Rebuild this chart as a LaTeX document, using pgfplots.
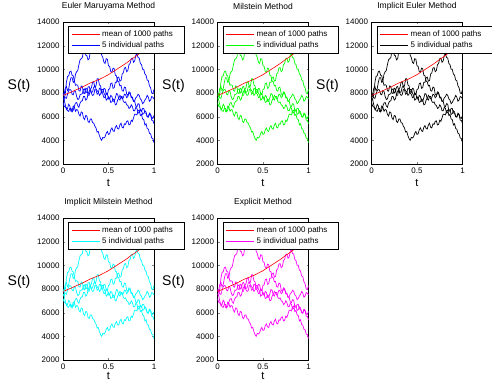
\documentclass[border=0pt]{standalone}
\usepackage{pgfplots}
\pgfplotsset{compat=1.18}
\usepackage{pgfplotstable}
\usepackage{fontspec}
\setmainfont{Liberation Sans}

\definecolor{mblue}{rgb}{0,0,1}
\definecolor{mgreen}{rgb}{0,1,0}
\definecolor{mcyan}{rgb}{0,1,1}
\definecolor{mmag}{rgb}{1,0,1}
\definecolor{mred}{rgb}{1,0,0}

\pgfplotstableread{
t      L     T      M      C     D     mean
0      7600  7800   7400   8000  7200  7800
0.0125 7450  7900   7450   7700  6900  7835
0.025  7000  8400   7900   7600  6800  7870
0.0375 6600  8550   8900   7550  6750  7910
0.05   6700  8200   9400   7900  6500  7950
0.0625 7050  8350   9450   8200  6450  7990
0.075  6900  8900   9800   8300  6700  8030
0.0875 6450  9300   9850   8250  6700  8070
0.1    6500  9300   9500   7900  6400  8110
0.1125 6900  8900   9450   7850  6550  8155
0.125  6800  9000   9000   8200  6900  8200
0.1375 6450  9600   8650   8150  7150  8245
0.15   6600  9800   8700   7700  7200  8290
0.1625 6550  9900   8650   7450  6900  8330
0.175  6200  10400  8200   7500  6800  8370
0.1875 6050  10800  8150   7850  7150  8410
0.2    6400  10900  8600   7900  7300  8450
0.2125 6350  11000  8550   7950  7350  8500
0.225  5900  11600  8000   8300  7700  8550
0.2375 5750  11700  7950   8350  7700  8600
0.25   6100  11200  8400   8000  7400  8650
0.2625 6050  11150  8350   8100  7500  8700
0.275  5600  10800  7800   8500  7900  8750
0.2875 5500  10900  7800   8550  8150  8800
0.3    5800  11500  8300   8200  8300  8850
0.3125 5800  11600  8450   7950  8050  8885
0.325  5500  12000  8900   7800  8100  8920
0.3375 5450  12050  8950   7850  8500  8960
0.35   5200  11600  8500   8300  8600  9000
0.3625 5050  11700  8600   8250  8350  9040
0.375  4700  12200  9200   7900  8200  9080
0.3875 4750  12150  9200   8000  8100  9115
0.4    4400  11800  8700   8400  7800  9150
0.4125 4150  11700  8600   8350  7900  9200
0.425  4000  11200  8100   8000  8300  9250
0.4375 4250  11000  8050   7900  8300  9300
0.45   4200  10600  8400   7600  8000  9350
0.4625 4300  10500  8350   7650  7800  9400
0.475  4600  10900  7900   8000  7400  9450
0.4875 4750  10850  7850   7950  7500  9500
0.5    4500  10300  8300   7500  7700  9550
0.5125 4550  10250  8350   7500  7550  9615
0.525  4900  9800   8800   7800  7200  9680
0.5375 5050  9750   8850   7700  7250  9740
0.55   4800  10100  8400   7300  7500  9800
0.5625 4750  10050  8450   7300  7400  9860
0.575  5100  9500   8900   7600  7000  9920
0.5875 5250  9450   8900   7950  7050  9985
0.6    5000  9000   9300   7900  7400  10050
0.6125 4950  8950   9350   7500  7550  10110
0.625  5300  8600   9000   7400  7800  10170
0.6375 5450  8650   9050   7700  7700  10235
0.65   5100  8200   9600   7700  7500  10300
0.6625 5050  8150   9700   7300  7600  10360
0.675  5400  8500   10100  7200  7900  10420
0.6875 5350  8450   10150  7250  7850  10485
0.7    5600  7900   9800   7000  7600  10550
0.7125 5650  7800   9900   6950  7700  10625
0.725  5300  8100   10400  6700  8000  10700
0.7375 5350  8050   10500  6750  7950  10775
0.75   5700  7600   10900  7000  7700  10850
0.7625 5600  7650   10950  6850  7550  10910
0.775  5900  7300   10600  6500  7300  10970
0.7875 6200  7300   10700  6500  7350  11035
0.8    6200  6900   11200  6800  7600  11100
0.8125 6150  6850   11300  6700  7700  11175
0.825  6500  7100   11000  6300  7900  11250
0.8375 6550  7050   10950  6350  7800  11325
0.85   6100  6500   10500  6600  7500  11400
0.8625 6200  6450   10400  6550  7400  11475
0.875  5800  6700   10000  6200  7100  11550
0.8875 5750  6700   10000  6250  7200  11625
0.9    5300  6300   9600   6500  7400  11700
0.9125 5400  6300   9500   6400  7550  11775
0.925  5000  6000   9100   6000  7800  11850
0.9375 4950  5950   9050   6000  7650  11925
0.95   4600  6200   8600   6300  7300  12000
0.9625 4550  6150   8450   6200  7400  12075
0.975  4200  5700   8000   5900  7700  12150
0.9875 4150  5700   7950   5850  7650  12225
1      3800  5400   8300   6100  7500  12300
}\paths

\newcommand\legbox[1]{\makebox[77pt][l]{#1}}

\pgfplotsset{
  mystyle/.style={
    scale only axis, width=91pt, height=142pt,
    xmin=0, xmax=1, ymin=2000, ymax=14000,
    xtick={0,0.5,1}, ytick={2000,4000,...,14000},
    scaled y ticks=false,
    yticklabel style={/pgf/number format/set thousands separator={}},
    /pgf/number format/assume math mode=true,
    tick label style={font=\fontsize{8}{9}\selectfont},
    major tick length=2pt,
    axis line style={line width=0.5pt},
    title style={font=\fontsize{8.5}{10}\selectfont, at={(axis description cs:0.5,1.07)}, anchor=center},
    xlabel={t}, ylabel={S(t)},
    xlabel style={font=\fontsize{11}{12}\selectfont, at={(axis description cs:0.5,-0.135)}, anchor=center},
    ylabel style={font=\fontsize{14}{16}\selectfont, at={(axis description cs:-0.484,0.55)}, rotate=-90, anchor=center},
    legend style={at={(0.055,0.972)}, anchor=north west, font=\fontsize{8}{9}\selectfont, line width=0.8pt, fill=white},
    legend image code/.code={\draw[##1] (0pt,0pt) -- (28pt,0pt);},
    legend cell align=left,
  }
}

\newcommand\panel[4]{%
  \begin{axis}[mystyle, at={#1}, anchor=south west, title={#2}, #4]
    \addlegendimage{mred, line width=0.8pt}
    \addlegendentry{\legbox{mean of 1000 paths}}
    \addlegendimage{#3, line width=0.8pt}
    \addlegendentry{\legbox{5 individual paths}}
    \addplot[color=#3, line width=0.7pt, forget plot] table[x=t,y=L]{\paths};
    \addplot[color=#3, line width=0.7pt, forget plot] table[x=t,y=T]{\paths};
    \addplot[color=#3, line width=0.7pt, forget plot] table[x=t,y=M]{\paths};
    \addplot[color=#3, line width=0.7pt, forget plot] table[x=t,y=C]{\paths};
    \addplot[color=#3, line width=0.7pt, forget plot] table[x=t,y=D]{\paths};
    \addplot[color=mred, line width=0.6pt, forget plot] table[x=t,y=mean]{\paths};
  \end{axis}%
}

\begin{document}
\begin{tikzpicture}
\useasboundingbox (0,0) rectangle (492pt,383pt);
\panel{(63pt,219pt)}{Euler Maruyama Method}{mblue}{}
\panel{(217.5pt,219pt)}{Milstein Method}{mgreen}{}
\panel{(371.5pt,219pt)}{Implicit Euler Method}{black}{}
\panel{(63pt,23pt)}{Implicit Milstein Method}{mcyan}{xlabel style={at={(axis description cs:0.5,-0.115)}}}
\panel{(217.5pt,23pt)}{Explicit Method}{mmag}{xlabel style={at={(axis description cs:0.5,-0.115)}}}
\end{tikzpicture}
\end{document}
